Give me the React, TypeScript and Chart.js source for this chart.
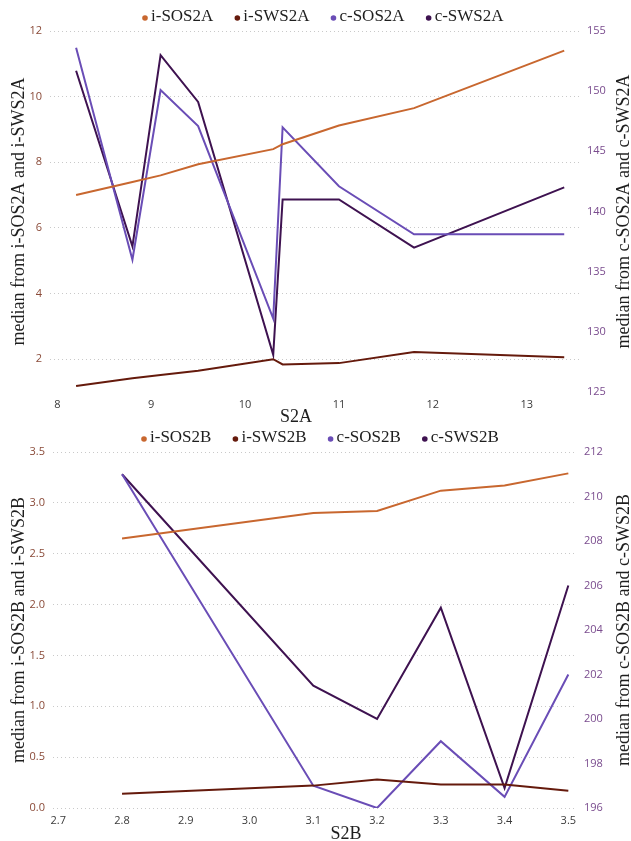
import React, { useEffect, useRef } from "react";
import { Chart, registerables } from "chart.js";

Chart.register(...registerables);

// ---------- Panel A data ----------
const xA = [8.2, 8.8, 9.1, 9.5, 10.3, 10.4, 11.0, 11.8, 13.4];
const iSOS2A = [7.0, 7.4, 7.6, 7.94, 8.4, 8.55, 9.12, 9.65, 11.4];
const iSWS2A = [1.18, 1.42, 1.52, 1.65, 2.0, 1.84, 1.88, 2.22, 2.06];
const cSOS2A = [153.6, 136, 150.1, 147.1, 131.1, 147, 142.1, 138.1, 138.1];
const cSWS2A = [151.7, 137.1, 153, 149.1, 128.1, 141, 141, 137, 142];
const xTicksA = [8, 9, 10, 11, 12, 13];
const leftTicksA = [2, 4, 6, 8, 10, 12];
const rightTicksA = [125, 130, 135, 140, 145, 150, 155];

// ---------- Panel B data ----------
const xB = [2.8, 3.1, 3.2, 3.3, 3.4, 3.5];
const iSOS2B = [2.65, 2.9, 2.92, 3.12, 3.17, 3.29];
const iSWS2B = [0.14, 0.22, 0.28, 0.23, 0.23, 0.17];
const cSOS2B = [211, 197, 196, 199, 196.5, 202];
const cSWS2B = [211, 201.5, 200, 205, 196.9, 206];
const xTicksB = [2.7, 2.8, 2.9, 3.0, 3.1, 3.2, 3.3, 3.4, 3.5];
const leftTicksB = [0, 0.5, 1, 1.5, 2, 2.5, 3, 3.5];
const rightTicksB = [196, 198, 200, 202, 204, 206, 208, 210, 212];

const COLORS = ["#c8672f", "#651a0c", "#6a4db6", "#3e1250"];
const TICK_FONT = { family: "'Open Sans', sans-serif", size: 11 };
const SERIF = "'Liberation Serif', 'Times New Roman', serif";

const overlay = {
  id: "overlay",
  afterDraw(chart: any, _args: any, o: any) {
    const { ctx, chartArea } = chart;
    ctx.save();
    ctx.font = `17px ${SERIF}`;
    ctx.textBaseline = "middle";
    ctx.textAlign = "left";
    let x = o.legendX;
    chart.data.datasets.forEach((ds: any) => {
      ctx.fillStyle = ds.borderColor;
      ctx.beginPath();
      ctx.arc(x + 3, o.legendY + 1, 2.8, 0, Math.PI * 2);
      ctx.fill();
      ctx.fillStyle = "#1e1e1e";
      ctx.fillText(ds.label, x + 9, o.legendY);
      x += 9 + ctx.measureText(ds.label).width + 21;
    });
    ctx.font = `18px ${SERIF}`;
    ctx.textAlign = "center";
    const cy = (chartArea.top + chartArea.bottom) / 2;
    [
      [o.leftX, o.leftTitle],
      [o.rightX, o.rightTitle],
    ].forEach(([tx, t]) => {
      ctx.save();
      ctx.translate(tx, cy);
      ctx.rotate(-Math.PI / 2);
      ctx.fillText(t, 0, 0);
      ctx.restore();
    });
    ctx.fillText(o.xTitle, o.xTitleX, o.xTitleY);
    ctx.restore();
  },
};

function makeConfig(p: any) {
  const mk = (label: string, ys: number[], color: string, axis: string) => ({
    label,
    data: p.xs.map((x: number, i: number) => ({ x, y: ys[i] })),
    borderColor: color,
    backgroundColor: color,
    borderWidth: 2,
    pointRadius: 0,
    tension: 0,
    yAxisID: axis,
  });
  const fixTicks = (arr: number[]) => (s: any) => {
    s.ticks = arr.map((v) => ({ value: v }));
  };
  return {
    type: "line",
    data: {
      datasets: [
        mk(p.names[0], p.s[0], COLORS[0], "yL"),
        mk(p.names[1], p.s[1], COLORS[1], "yL"),
        mk(p.names[2], p.s[2], COLORS[2], "yR"),
        mk(p.names[3], p.s[3], COLORS[3], "yR"),
      ],
    },
    options: {
      animation: false,
      responsive: false,
      events: [],
      layout: { padding: { top: p.padTop, left: 0, right: 0, bottom: 0 } },
      plugins: {
        legend: { display: false },
        tooltip: { enabled: false },
        overlay: p.overlay,
      },
      scales: {
        x: {
          type: "linear",
          min: p.xMin,
          max: p.xMax,
          afterBuildTicks: fixTicks(p.xTicks),
          afterFit: (s: any) => {
            s.height = p.xHeight;
          },
          grid: { display: false, drawTicks: false },
          border: { display: false },
          ticks: {
            font: TICK_FONT,
            color: "#3a3a3a",
            padding: 6,
            maxRotation: 0,
            callback: p.xFmt,
          },
        },
        yL: {
          type: "linear",
          position: "left",
          min: p.lMin,
          max: p.lMax,
          afterBuildTicks: fixTicks(p.lTicks),
          afterFit: (s: any) => {
            s.width = p.lWidth;
          },
          grid: { color: "#c9c9c9", lineWidth: 1, drawTicks: false },
          border: { display: false, dash: [1, 3] },
          ticks: { font: TICK_FONT, color: "#8a4a38", padding: 8, callback: p.lFmt },
        },
        yR: {
          type: "linear",
          position: "right",
          min: p.rMin,
          max: p.rMax,
          afterBuildTicks: fixTicks(p.rTicks),
          afterFit: (s: any) => {
            s.width = p.rWidth;
          },
          grid: { display: false, drawTicks: false },
          border: { display: false },
          ticks: { font: TICK_FONT, color: "#7a4c8e", padding: 7 },
        },
      },
    },
    plugins: [overlay],
  };
}

function Panel({ p, height }: { p: any; height: number }) {
  const ref = useRef<HTMLCanvasElement>(null);
  useEffect(() => {
    document.body.style.margin = "0";
    const chart = new Chart(ref.current as HTMLCanvasElement, makeConfig(p) as any);
    return () => chart.destroy();
  }, []);
  return (
    <div style={{ width: 631, height }}>
      <canvas ref={ref} width={631} height={height} style={{ display: "block" }} />
    </div>
  );
}

const panelA = {
  xs: xA,
  s: [iSOS2A, iSWS2A, cSOS2A, cSWS2A],
  names: ["i-SOS2A", "i-SWS2A", "c-SOS2A", "c-SWS2A"],
  xMin: 7.922,
  xMax: 13.568,
  xTicks: xTicksA,
  xFmt: (v: any) => String(v),
  lMin: 1,
  lMax: 12,
  lTicks: leftTicksA,
  lFmt: (v: any) => String(v),
  rMin: 125,
  rMax: 155,
  rTicks: rightTicksA,
  padTop: 31,
  xHeight: 32,
  lWidth: 50,
  rWidth: 51,
  overlay: {
    legendX: 142,
    legendY: 17,
    leftX: 19,
    rightX: 624,
    leftTitle: "median from i-SOS2A and i-SWS2A",
    rightTitle: "median from c-SOS2A and c-SWS2A",
    xTitle: "S2A",
    xTitleX: 296,
    xTitleY: 417,
  },
};

const panelB = {
  xs: xB,
  s: [iSOS2B, iSWS2B, cSOS2B, cSWS2B],
  names: ["i-SOS2B", "i-SWS2B", "c-SOS2B", "c-SWS2B"],
  xMin: 2.6917,
  xMax: 3.5136,
  xTicks: xTicksB,
  xFmt: (v: any) => Number(v).toFixed(1),
  lMin: 0,
  lMax: 3.5,
  lTicks: leftTicksB,
  lFmt: (v: any) => Number(v).toFixed(1),
  rMin: 196,
  rMax: 212,
  rTicks: rightTicksB,
  padTop: 28,
  xHeight: 33,
  lWidth: 53,
  rWidth: 54,
  overlay: {
    legendX: 141,
    legendY: 14,
    leftX: 19,
    rightX: 624,
    leftTitle: "median from i-SOS2B and i-SWS2B",
    rightTitle: "median from c-SOS2B and c-SWS2B",
    xTitle: "S2B",
    xTitleX: 346,
    xTitleY: 410,
  },
};

export default function App() {
  return (
    <div style={{ width: 631, background: "#fff" }}>
      <Panel p={panelA} height={424} />
      <Panel p={panelB} height={417} />
    </div>
  );
}
